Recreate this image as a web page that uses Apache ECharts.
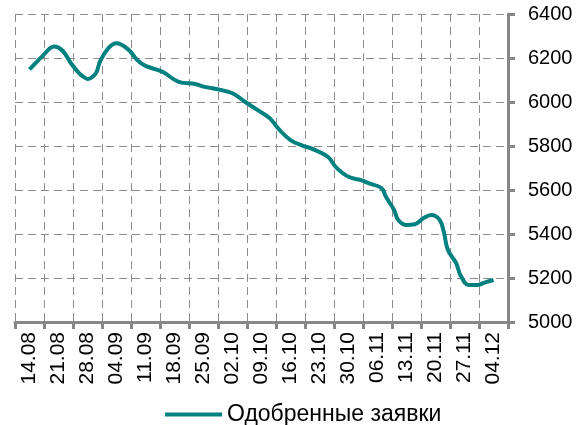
<!DOCTYPE html>
<html>
<head>
<meta charset="utf-8">
<script src="https://cdn.jsdelivr.net/npm/echarts@6/dist/echarts.min.js"></script>
<style>
  html, body { margin: 0; padding: 0; background: #fff; }
  #chart { width: 584px; height: 425px; }
</style>
</head>
<body>
<div id="chart"></div>
<script>
// weekly labels on the category axis
const weekLabels = ['14.08', '21.08', '28.08', '04.09', '11.09', '18.09', '25.09', '02.10', '09.10',
  '16.10', '23.10', '30.10', '06.11', '13.11', '20.11', '27.11', '04.12']

// days after 14.08 and the values read at those days
const days = [0, 1, 3, 6, 8, 10, 12, 13, 14, 16, 17, 19, 21, 24, 26, 28, 32, 36, 40, 42, 46, 49,
  52, 55, 58, 60, 63, 66, 68, 72, 74, 77, 80, 82, 85, 86, 88, 89, 91, 93, 95, 97, 99, 100, 101,
  103, 104, 106, 108, 110, 112]
const approved = [6148, 6168, 6206, 6252, 6233, 6176, 6130, 6115, 6105, 6130, 6183, 6244, 6267,
  6236, 6191, 6164, 6138, 6092, 6082, 6070, 6055, 6040, 6001, 5964, 5926, 5880, 5827, 5801, 5789,
  5751, 5703, 5660, 5645, 5630, 5608, 5570, 5509, 5464, 5441, 5444, 5471, 5486, 5464, 5410, 5327,
  5267, 5214, 5168, 5168, 5180, 5191]

const axisGray = '#878787'
const gridGray = '#8c8c8c'
const font = 'Liberation Sans'
const dash = [8, 5]

const chart = echarts.init(document.getElementById('chart'))

chart.setOption({
  animation: false,
  grid: { left: 15, right: 76, top: 14, bottom: 103 },
  legend: {
    top: 398,
    left: 160,
    icon: 'rect',
    itemWidth: 57,
    itemHeight: 4,
    itemGap: 4,
    textStyle: { fontFamily: font, fontSize: 23, color: '#000' },
    data: ['Одобренные заявки'],
  },
  xAxis: [
    {
      type: 'category',
      data: weekLabels,
      boundaryGap: true,
      axisLine: { lineStyle: { color: axisGray, width: 3 } },
      axisTick: { show: true, length: 7, lineStyle: { color: axisGray, width: 3 } },
      axisLabel: { rotate: 90, interval: 0, margin: 10, fontFamily: font, fontSize: 21, color: '#000' },
      splitLine: { show: true, lineStyle: { color: gridGray, type: dash, width: 1 } },
    },
    { type: 'value', min: -3.5, max: 115.5, show: false },
  ],
  yAxis: {
    type: 'value',
    position: 'right',
    min: 5000,
    max: 6400,
    interval: 200,
    axisLine: { show: true, onZero: false, lineStyle: { color: axisGray, width: 3 } },
    axisTick: { show: true, length: 7, lineStyle: { color: axisGray, width: 3 } },
    axisLabel: { margin: 20, fontFamily: font, fontSize: 20, color: '#000', formatter: v => String(v) },
    splitLine: { show: true, lineStyle: { color: gridGray, type: dash, width: 1 } },
  },
  series: [
    {
      name: 'Одобренные заявки',
      type: 'line',
      xAxisIndex: 1,
      data: days.map((d, i) => [d, approved[i]]),
      smooth: 0.4,
      symbol: 'none',
      lineStyle: { color: '#00807f', width: 4 },
      itemStyle: { color: '#00807f' },
    },
  ],
})
</script>
</body>
</html>
